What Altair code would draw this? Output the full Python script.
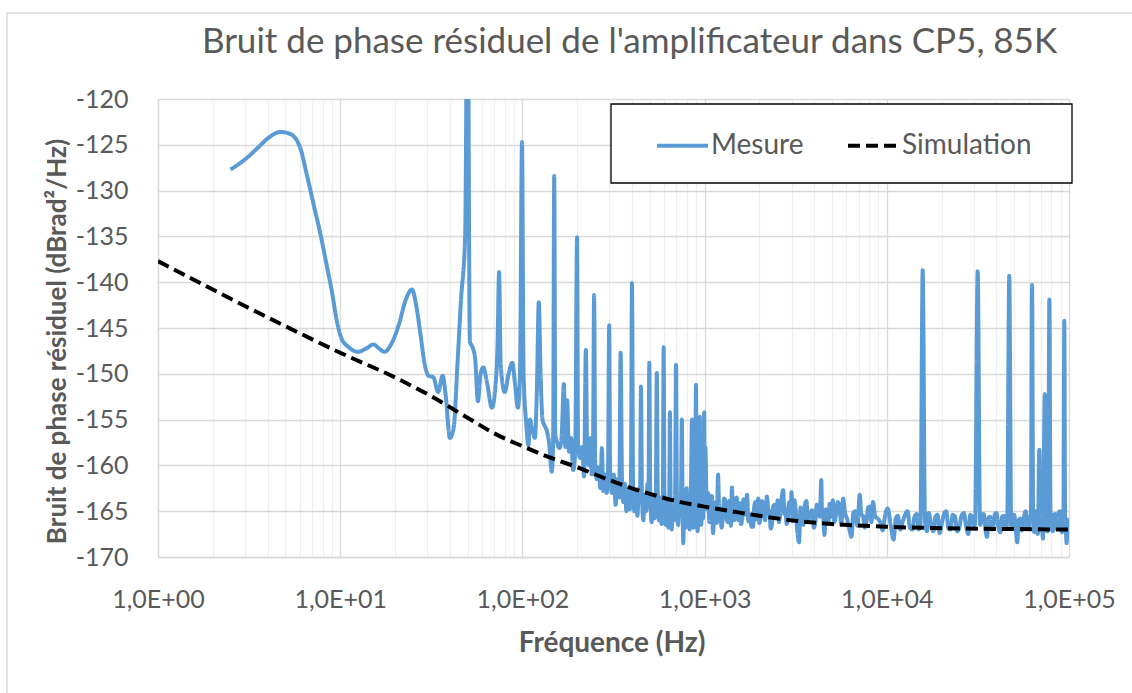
import altair as alt
import pandas as pd

# Measured residual phase noise (Hz, dBrad²/Hz)
mesure_freq = [
    2.5, 3.0, 3.5, 4.0, 4.7, 5.3, 6.0, 6.6, 7.2, 7.8, 8.4, 9.0, 9.6, 10.2, 11.0,
    12.5, 14.0, 15.2, 16.5, 17.5, 19.0, 21.0, 23.0, 24.8, 26.0, 27.5, 29.0, 30.5,
    32.5, 34.5, 36.5, 38.0, 40.0, 42.0, 44.0, 46.0, 48.5, 50.0, 51.5, 53.0, 55.0,
    57.0, 59.0, 61.0, 64.0, 68.0, 71.0, 73.0, 74.5, 76.0, 80.0, 84.0, 88.0, 91.0,
    94.5, 97.0, 99.5, 101.5, 105.0, 108.0, 110.0, 113.0, 117.0, 120.0, 123.0,
    126.0, 129.0, 132.0, 136.0, 140.0, 145.0, 147.5, 149.5, 151.5, 155.0, 160.0,
    164.0, 169.0, 172.0, 176.0, 180.0, 185.0, 190.0, 195.0, 199.5, 202.0, 208.0,
    213.0, 218.0, 223.0, 227.0, 232.0, 237.0, 240.0, 244.0, 247.5, 251.0, 256.0,
    262.0, 268.0, 273.0, 278.0, 284.0, 290.0, 295.0, 299.5, 303.0, 310.0, 317.0,
    325.0, 332.0, 340.0, 346.0, 352.0, 358.0, 365.0, 372.0, 380.0, 388.0, 394.0,
    399.5, 405.0, 412.0, 420.0, 428.0, 436.0, 442.0, 447.5, 453.0, 461.0, 470.0,
    478.0, 486.0, 492.0, 497.0, 503.0, 512.0, 521.0, 530.0, 540.0, 546.5, 553.0,
    562.0, 571.0, 580.0, 590.0, 596.0, 602.0, 612.0, 622.0, 632.0, 640.0, 645.5,
    651.0, 660.0, 670.0, 680.0, 689.0, 697.0, 705.0, 716.0, 728.0, 738.0, 744.0,
    750.0, 757.0, 764.0, 773.0, 785.0, 797.0, 805.0, 816.0, 828.0, 840.0, 847.0,
    852.0, 858.0, 868.0, 880.0, 890.0, 897.0, 905.0, 915.0, 928.0, 935.0, 941.0,
    948.0, 958.0, 970.0, 980.0, 988.0, 995.0, 1002.0, 1010.0, 1028.0, 1045.0,
    1062.0, 1080.0, 1095.0, 1112.0, 1130.0, 1150.0, 1168.0, 1185.0, 1202.0,
    1220.0, 1240.0, 1260.0, 1280.0, 1300.0, 1320.0, 1340.0, 1360.0, 1380.0,
    1396.0, 1413.0, 1430.0, 1450.0, 1475.0, 1500.0, 1530.0, 1560.0, 1585.0,
    1610.0, 1635.0, 1660.0, 1685.0, 1710.0, 1740.0, 1770.0, 1810.0, 1845.0,
    1870.0, 1900.0, 1935.0, 1970.0, 2000.0, 2030.0, 2065.0, 2100.0, 2150.0,
    2200.0, 2235.0, 2270.0, 2305.0, 2340.0, 2385.0, 2430.0, 2475.0, 2520.0,
    2560.0, 2600.0, 2650.0, 2700.0, 2740.0, 2780.0, 2820.0, 2860.0, 2895.0,
    2930.0, 2965.0, 3000.0, 3040.0, 3080.0, 3115.0, 3150.0, 3220.0, 3300.0,
    3360.0, 3420.0, 3480.0, 3540.0, 3620.0, 3700.0, 3800.0, 3900.0, 3975.0,
    4050.0, 4125.0, 4200.0, 4290.0, 4370.0, 4410.0, 4450.0, 4500.0, 4550.0,
    4625.0, 4700.0, 4775.0, 4850.0, 4950.0, 5050.0, 5150.0, 5250.0, 5375.0,
    5500.0, 5630.0, 5760.0, 5900.0, 6050.0, 6220.0, 6400.0, 6550.0, 6700.0,
    6900.0, 7100.0, 7250.0, 7400.0, 7575.0, 7750.0, 7900.0, 8050.0, 8225.0,
    8400.0, 8650.0, 8900.0, 9200.0, 9500.0, 9800.0, 10100.0, 10500.0, 10900.0,
    11200.0, 11500.0, 11850.0, 12200.0, 12600.0, 13000.0, 13400.0, 13800.0,
    14200.0, 14600.0, 14950.0, 15300.0, 15740.0, 16200.0, 16600.0, 17000.0,
    17500.0, 18000.0, 18500.0, 19000.0, 19500.0, 20000.0, 20600.0, 21200.0,
    21800.0, 22400.0, 23000.0, 23700.0, 24300.0, 25000.0, 25700.0, 26500.0,
    27200.0, 28000.0, 28700.0, 29500.0, 30000.0, 30500.0, 31540.0, 32500.0,
    33200.0, 34000.0, 34700.0, 35500.0, 36200.0, 37000.0, 37700.0, 38500.0,
    39200.0, 40000.0, 41000.0, 42000.0, 43000.0, 44000.0, 45000.0, 45800.0,
    47000.0, 48200.0, 49100.0, 50000.0, 51000.0, 52000.0, 53000.0, 54000.0,
    55000.0, 56000.0, 57000.0, 58000.0, 59000.0, 60000.0, 61000.0, 61800.0,
    62700.0, 63600.0, 64500.0, 65500.0, 66500.0, 67500.0, 68700.0, 70000.0,
    71000.0, 72000.0, 73600.0, 75000.0, 76000.0, 76800.0, 78000.0, 79200.0,
    80300.0, 81500.0, 82700.0, 84000.0, 85200.0, 86500.0, 87800.0, 89000.0,
    90200.0, 91500.0, 92500.0, 93300.0, 94200.0, 95200.0, 96100.0, 97000.0,
    98500.0, 100000.0,
]
mesure_db = [
    -127.7, -126.6, -125.4, -124.3, -123.6, -123.8, -125.2, -128.5, -131.8, -134.8,
    -138.0, -141.0, -144.3, -146.2, -147.0, -147.6, -147.2, -146.8, -147.3, -147.6,
    -146.8, -144.6, -141.8, -140.8, -142.3, -145.5, -148.8, -150.2, -150.4, -152.0,
    -150.2, -152.5, -157.0, -155.8, -149.0, -142.0, -135.0, -105.0, -146.5, -147.0,
    -148.3, -153.0, -150.0, -149.3, -151.0, -153.7, -151.5, -147.0, -138.9, -149.0,
    -152.0, -150.0, -148.8, -151.0, -153.7, -150.0, -124.7, -150.0, -155.5, -157.8,
    -155.0, -156.0, -157.0, -152.0, -142.2, -150.5, -155.0, -155.6, -156.2, -157.5,
    -160.7, -157.0, -128.4, -156.5, -157.5, -158.1, -157.0, -151.1, -158.0, -152.9,
    -158.5, -157.0, -160.5, -158.5, -135.1, -157.5, -159.2, -158.0, -161.2, -147.4,
    -159.0, -160.0, -157.0, -161.0, -158.5, -141.4, -159.5, -161.5, -160.2, -162.5,
    -158.1, -162.8, -161.0, -163.0, -160.5, -144.7, -160.8, -163.0, -161.0, -164.3,
    -161.5, -163.5, -147.7, -161.5, -164.0, -162.0, -165.0, -162.5, -164.8, -161.8,
    -140.1, -162.0, -165.0, -162.8, -165.5, -162.5, -164.0, -151.4, -163.0, -166.0,
    -163.2, -165.0, -162.0, -164.5, -148.8, -163.0, -166.2, -163.5, -165.8, -163.0,
    -149.9, -162.5, -166.0, -163.5, -166.4, -163.8, -147.1, -163.0, -166.5, -164.0,
    -166.8, -163.5, -154.2, -164.2, -167.0, -164.5, -166.0, -163.0, -149.0, -163.8,
    -166.5, -164.0, -165.5, -161.5, -155.0, -164.0, -168.5, -164.5, -166.8, -162.5,
    -165.5, -163.2, -167.0, -163.5, -158.0, -155.0, -164.0, -166.8, -163.8, -160.0,
    -151.2, -164.5, -167.2, -163.0, -159.5, -154.7, -164.2, -166.5, -163.5, -165.8,
    -162.0, -154.2, -163.0, -158.0, -164.8, -163.0, -166.2, -165.0, -163.3, -167.4,
    -165.2, -164.0, -166.3, -161.0, -164.6, -165.0, -166.8, -165.6, -163.6, -164.0,
    -165.7, -166.2, -163.9, -164.5, -166.6, -162.4, -165.2, -166.0, -164.1, -163.5,
    -166.0, -164.1, -166.4, -165.8, -163.7, -164.0, -165.4, -163.2, -166.1, -165.3,
    -166.7, -166.7, -164.6, -164.0, -165.9, -163.6, -166.3, -165.5, -163.9, -164.2,
    -166.0, -163.4, -164.8, -165.0, -166.9, -166.5, -164.4, -164.3, -165.6, -163.8,
    -166.2, -165.2, -163.5, -162.7, -165.3, -164.8, -166.4, -166.0, -164.2, -164.0,
    -165.2, -162.9, -166.1, -165.5, -163.8, -164.5, -167.0, -168.4, -164.6, -165.0,
    -166.5, -164.5, -163.9, -166.0, -165.2, -164.9, -166.8, -166.2, -164.3, -164.5,
    -165.6, -161.6, -165.2, -165.0, -166.3, -167.6, -164.8, -165.0, -166.4, -164.2,
    -165.6, -163.8, -166.2, -165.5, -164.0, -164.5, -166.5, -163.6, -165.2, -165.8,
    -166.9, -167.8, -165.2, -165.0, -166.6, -163.2, -165.4, -165.5, -166.8, -166.0,
    -164.6, -164.5, -166.2, -164.0, -165.6, -165.8, -166.2, -167.1, -165.4, -164.7,
    -166.5, -168.1, -165.8, -165.5, -167.0, -166.2, -165.4, -165.0, -166.8, -167.0,
    -165.6, -165.3, -167.0, -166.5, -138.7, -166.0, -167.2, -165.2, -166.4, -167.2,
    -165.6, -165.4, -167.4, -166.5, -165.3, -165.0, -166.9, -167.0, -165.4, -165.6,
    -167.2, -166.8, -165.5, -165.2, -166.6, -167.5, -165.4, -165.8, -166.6, -166.4,
    -138.8, -166.5, -165.4, -165.3, -166.9, -167.8, -165.7, -165.6, -167.0, -166.6,
    -165.3, -165.2, -166.8, -167.3, -165.6, -165.5, -166.9, -166.2, -139.3, -166.8,
    -165.5, -165.4, -167.0, -168.4, -166.0, -165.8, -167.1, -166.5, -165.3, -165.0,
    -166.8, -166.9, -165.6, -165.5, -140.3, -166.2, -167.3, -165.0, -166.2, -167.5,
    -158.3, -165.2, -166.6, -168.0, -152.2, -165.5, -167.2, -166.8, -141.9, -165.6,
    -166.8, -167.2, -165.4, -165.3, -166.9, -166.7, -165.2, -165.0, -166.8, -167.3,
    -165.7, -165.5, -144.2, -166.0, -167.0, -168.5, -166.2, -165.8,
]

# Simulated residual phase noise
sim_freq = [1, 2, 3, 5, 10, 20, 30, 50, 70, 100, 140, 200, 300, 400, 500, 700,
            1000, 1500, 2000, 3000, 5000, 10000, 20000, 50000, 100000]
sim_db = [-137.7, -140.8, -142.6, -144.8, -147.7, -150.4, -152.2, -154.8, -156.5,
          -157.9, -159.1, -160.2, -161.6, -162.5, -163.1, -163.9, -164.5, -165.1,
          -165.5, -166.0, -166.4, -166.7, -166.85, -166.95, -167.0]

series_names = ["Mesure", "Simulation"]
x_ticks = [m * 10 ** e for e in range(5) for m in range(1, 10)] + [100000]
y_ticks = list(range(-170, -115, 5))

W, H = 911, 458
FONT = "Lato"
TXT = "#595959"

df_mes = pd.DataFrame({"freq": mesure_freq, "db": mesure_db, "serie": "Mesure"})
df_sim = pd.DataFrame({"freq": sim_freq, "db": sim_db, "serie": "Simulation"})

decade = "abs(log(datum.value)/LN10 - round(log(datum.value)/LN10)) < 0.001"

x_enc = alt.X(
    "freq:Q",
    scale=alt.Scale(type="log", domain=[1, 100000], nice=False),
    axis=alt.Axis(
        title="Fréquence (Hz)",
        values=x_ticks,
        labelExpr=f"{decade} ? '1,0E+0' + round(log(datum.value)/LN10) : ''",
        ticks=False,
        labelPadding=30,
        labelFontSize=25,
        labelFont=FONT,
        labelColor=TXT,
        labelFlush=False,
        labelOverlap=False,
        gridColor={"condition": {"test": decade, "value": "#d9d9d9"}, "value": "#efefef"},
        gridWidth=1.3,
        domainColor="#d9d9d9",
        domainWidth=1.3,
        titleFont=FONT,
        titleFontSize=28,
        titleFontWeight="bold",
        titleColor=TXT,
        titleX=W / 2 - 2,
        titleY=86,
        titleBaseline="middle",
    ),
)
y_enc = alt.Y(
    "db:Q",
    scale=alt.Scale(domain=[-170, -120], nice=False, zero=False),
    axis=alt.Axis(
        title="Bruit de phase résiduel (dBrad²/Hz)",
        values=y_ticks,
        labelExpr="'' + datum.value",
        ticks=False,
        labelPadding=30,
        labelFontSize=25,
        labelFont=FONT,
        labelColor=TXT,
        gridColor="#d9d9d9",
        gridWidth=1.3,
        domainColor="#d9d9d9",
        domainWidth=1.3,
        titleFont=FONT,
        titleFontSize=26,
        titleFontWeight="bold",
        titleColor=TXT,
        titleX=-101,
        titleY=H / 2 + 13,
        titleBaseline="middle",
    ),
)

legend = alt.Legend(
    orient="none",
    legendX=497,
    legendY=19,
    direction="horizontal",
    title=None,
    padding=0,
    symbolType="stroke",
    symbolSize=2600,
    symbolStrokeWidth=4,
    labelFont=FONT,
    labelFontSize=28,
    labelColor=TXT,
    labelOffset=1,
    columnPadding=36,
)
color = alt.Color(
    "serie:N",
    scale=alt.Scale(domain=series_names, range=["#5B9BD5", "black"]),
    legend=legend,
)
dash = alt.StrokeDash(
    "serie:N",
    scale=alt.Scale(domain=series_names, range=[[1, 0], [12, 6]]),
    legend=legend,
)

mes = alt.Chart(df_mes).mark_line(
    strokeWidth=4, interpolate="monotone", clip=True, strokeJoin="round"
).encode(x=x_enc, y=y_enc, color=color, strokeDash=dash)

sim = alt.Chart(df_sim).mark_line(
    strokeWidth=4, interpolate="monotone", clip=True
).encode(x=x_enc, y=y_enc, color=color, strokeDash=dash)

# white legend box with black outline
legend_box = alt.Chart(pd.DataFrame({"k": [0]})).mark_rect(
    fill="white", stroke="black", strokeWidth=1.3
).encode(
    x=alt.value(611 - 158), x2=alt.value(1072 - 158),
    y=alt.value(104 - 99), y2=alt.value(183 - 99),
)

# light frame along the top and left edges of the figure
edge = pd.DataFrame({"k": [0]})
frame_top = alt.Chart(edge).mark_rule(color="#d9d9d9", strokeWidth=1.5).encode(
    x=alt.value(-151), x2=alt.value(1132 - 158), y=alt.value(-86)
)
frame_left = alt.Chart(edge).mark_rule(color="#d9d9d9", strokeWidth=1.5).encode(
    x=alt.value(-151), y=alt.value(-86), y2=alt.value(693 - 99)
)

chart = (
    alt.layer(frame_top, frame_left, mes, sim, legend_box)
    .properties(
        width=W,
        height=H,
        autosize=alt.AutoSizeParams(type="none"),
        padding={"left": 158, "top": 99, "right": 63, "bottom": 136},
        title=alt.TitleParams(
            text="Bruit de phase résiduel de l'amplificateur dans CP5, 85K",
            font=FONT,
            fontSize=35,
            fontWeight="normal",
            color=TXT,
            anchor="middle",
            frame="group",
            baseline="alphabetic",
            offset=-76,
            dx=16,
        ),
    )
    .configure_view(stroke="#d9d9d9", strokeWidth=1.3)
    .configure(background="white")
)

chart.save("out.html", embed_options={"renderer": "svg", "actions": False})
